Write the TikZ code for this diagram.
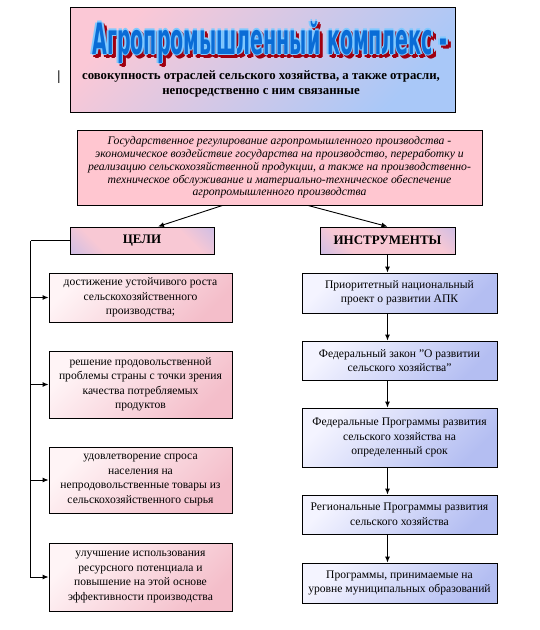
\documentclass[tikz,border=0pt]{standalone}
\usepackage{fontspec}
\setmainfont{Liberation Serif}
\newfontfamily\headfont{DejaVu Sans}
\usetikzlibrary{arrows.meta,calc}
\definecolor{tpink}{HTML}{FBC8D6}
\definecolor{tblue}{HTML}{A9C8F8}
\definecolor{gpink}{HTML}{FFC6D0}
\definecolor{cpink}{HTML}{F8C8D4}
\definecolor{cblue}{HTML}{A8B4F4}
\definecolor{lpinkA}{HTML}{FFF4F6}
\definecolor{lpinkB}{HTML}{F4BECA}
\definecolor{rblueA}{HTML}{F4F4FF}
\definecolor{rblueB}{HTML}{B4BEF2}
\definecolor{headblue}{HTML}{0A6CD6}
\definecolor{headout}{HTML}{7FC8FF}
\definecolor{headshadow}{HTML}{A00010}
\pgfdeclarehorizontalshading{celishade}{100bp}{color(0bp)=(cblue); color(30bp)=(cpink); color(70bp)=(cpink); color(100bp)=(cblue)}
\newcommand{\headtext}{\resizebox*{355pt}{42pt}{\headfont\bfseries Агропромышленный комплекс -}}
\tikzset{
  frame/.style={draw=black, line width=0.9pt, inner sep=2pt, align=center},
  titlebox/.style={frame, left color=tpink, right color=tblue, shading angle=45},
  defbox/.style={frame, fill=gpink, font=\itshape\fontsize{11.7}{12.8}\selectfont},
  headbox/.style={frame, shading=celishade, shading angle=45, font=\bfseries\fontsize{13}{15}\selectfont},
  goalbox/.style={frame, left color=lpinkA, right color=lpinkB, shading angle=45, font=\fontsize{11.6}{14.5}\selectfont},
  toolbox/.style={frame, left color=rblueA, right color=rblueB, shading angle=45, font=\fontsize{11.6}{14.5}\selectfont},
  arr/.style={line width=0.9pt, -{Latex[length=6pt,width=5pt]}},
  ln/.style={line width=0.9pt},
  headlayer/.style={inner sep=0pt}
}
\begin{document}
\begin{tikzpicture}[x=1pt,y=-1pt]
\useasboundingbox (0,0) rectangle (540,630);
% title box
\node[titlebox, minimum width=385pt, minimum height=105pt] (title) at (262.5,59.5) {};
\foreach \dx/\dy in {-1.6/0,1.6/0,0/-1.6,0/1.6}{
  \node[headlayer, text=headshadow] at (270+\dx+3,42+\dy+3) {\headtext};
}
\foreach \dx/\dy in {-1.6/0,1.6/0,0/-1.6,0/1.6}{
  \node[headlayer, text=headout] at (270+\dx,42+\dy) {\headtext};
}
\node[headlayer, text=headblue] (head) at (270,42) {\headtext};
\node[align=center, font=\bfseries\fontsize{12.8}{15}\selectfont] (sub) at (261,84)
  {совокупность отраслей сельского хозяйства, а также отрасли,\\непосредственно с ним связанные};
\node[font=\bfseries\fontsize{14}{14}\selectfont] (bar) at (59,77) {|};
% definition box
\node[defbox, minimum width=405pt, minimum height=75pt] (def) at (279.5,167.5)
  {Государственное регулирование агропромышленного производства -\\
   экономическое воздействие государства на производство, переработку и\\
   реализацию сельскохозяйственной продукции, а также на производственно-\\
   техническое обслуживание и материально-техническое обеспечение\\
   агропромышленного производства};
% heads
\node[headbox, minimum width=144pt, minimum height=27pt] (celi) at (142,240.5) {ЦЕЛИ};
\node[headbox, minimum width=135pt, minimum height=27pt] (instr) at (387.5,240.5) {ИНСТРУМЕНТЫ};
\draw[arr] ([xshift=-57pt]def.south) -- ([xshift=16pt]celi.north);
\draw[arr] ([xshift=28.5pt]def.south) -- (instr.north);
% goals
\node[goalbox, minimum width=183pt, minimum height=49pt] (g1) at (140.5,297.5)
  {достижение устойчивого роста\\сельскохозяйственного\\производства;};
\node[goalbox, minimum width=183pt, minimum height=67pt] (g2) at (140.5,384.5)
  {решение продовольственной\\проблемы страны с точки зрения\\качества потребляемых\\продуктов};
\node[goalbox, minimum width=183pt, minimum height=66pt] (g3) at (140.5,480)
  {удовлетворение спроса\\населения на\\непродовольственные товары из\\сельскохозяйственного сырья};
\node[goalbox, minimum width=183pt, minimum height=68pt] (g4) at (140.5,577)
  {улучшение использования\\ресурсного потенциала и\\повышение на этой основе\\эффективности производства};
\coordinate (sp) at ([xshift=-39pt]celi.west);
\draw[ln] (celi.west) -- (sp);
\draw[arr] (sp) |- (g4.west);
\draw[arr] (sp |- g1.west) -- (g1.west);
\draw[arr] (sp |- g2.west) -- (g2.west);
\draw[arr] (sp |- g3.west) -- (g3.west);
% tools
\node[toolbox, minimum width=195pt, minimum height=40pt] (t1) at (399.5,293)
  {Приоритетный национальный\\проект о развитии АПК};
\node[toolbox, minimum width=195pt, minimum height=39pt] (t2) at (399.5,360.5)
  {Федеральный закон "О развитии\\сельского хозяйства"};
\node[toolbox, minimum width=195pt, minimum height=59pt] (t3) at (399.5,437.5)
  {Федеральные Программы развития\\сельского хозяйства на\\определенный срок};
\node[toolbox, minimum width=195pt, minimum height=39pt] (t4) at (399.5,514.5)
  {Региональные Программы развития\\сельского хозяйства};
\node[toolbox, minimum width=195pt, minimum height=40pt] (t5) at (399.5,583)
  {Программы, принимаемые на\\уровне муниципальных образований};
\draw[arr] (instr.south) -- (instr.south |- t1.north);
\draw[arr] (t1.south -| instr.south) -- (instr.south |- t2.north);
\draw[arr] (t2.south -| instr.south) -- (instr.south |- t3.north);
\draw[arr] (t3.south -| instr.south) -- (instr.south |- t4.north);
\draw[arr] (t4.south -| instr.south) -- (instr.south |- t5.north);
\end{tikzpicture}
\end{document}
